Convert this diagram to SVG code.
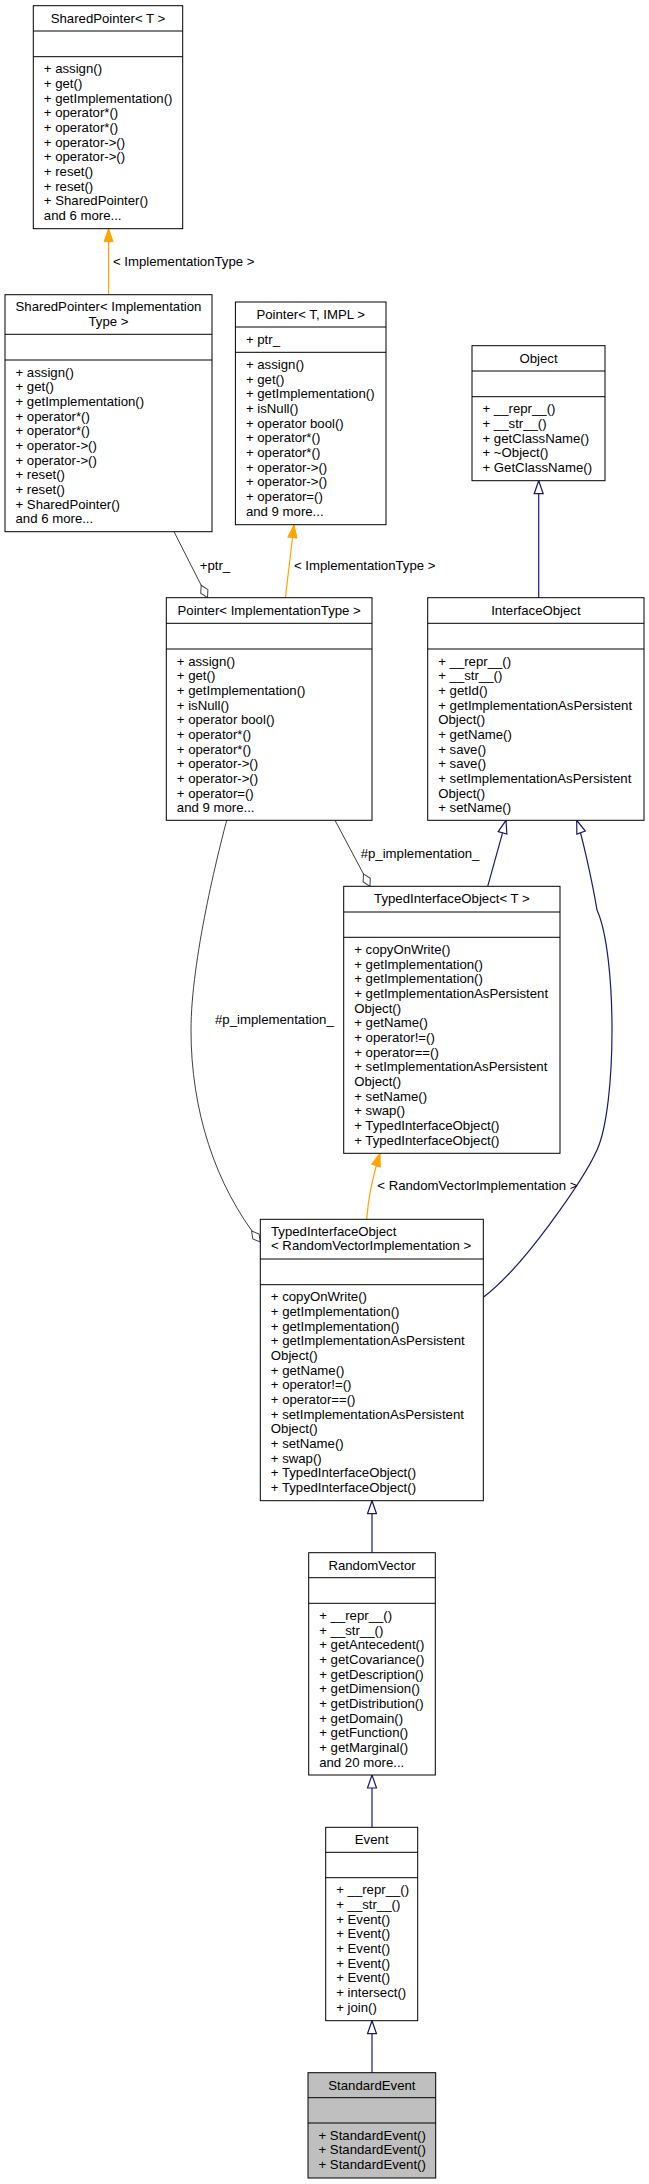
<svg xmlns="http://www.w3.org/2000/svg" width="649" height="2184" viewBox="0 0 649 2184">
<style>
.bg{fill:#fff}
.box{fill:#fff;stroke:#000;stroke-width:1}
.root{fill:#bfbfbf;stroke:#000;stroke-width:1}
.sep{stroke:#000;stroke-width:1}
text{font-family:"Liberation Sans",Arial,Helvetica,sans-serif;font-size:13.2px;fill:#000}
.c{text-anchor:middle}
.use{fill:none;stroke:#404040;stroke-width:1}
.tpl{fill:none;stroke:#ffa500;stroke-width:1.2}
.inh{fill:none;stroke:#191970;stroke-width:1.2}
</style>
<defs>
<marker id="mInh" markerUnits="userSpaceOnUse" markerWidth="16" markerHeight="12" refX="14" refY="5.5" orient="auto" overflow="visible">
<path d="M1,1 L14,5.5 L1,10 z" fill="#fff" stroke="#191970" stroke-width="1.2"/>
</marker>
<marker id="mTpl" markerUnits="userSpaceOnUse" markerWidth="16" markerHeight="12" refX="14" refY="5.5" orient="auto" overflow="visible">
<path d="M1,1 L14,5.5 L1,10 z" fill="#ffa500" stroke="#ffa500" stroke-width="1"/>
</marker>
<marker id="mDia" markerUnits="userSpaceOnUse" markerWidth="17" markerHeight="10" refX="15" refY="5" orient="auto" overflow="visible">
<path d="M1,5 L8,1 L15,5 L8,9 z" fill="#fff" stroke="#404040" stroke-width="1"/>
</marker>
</defs>
<rect class="bg" x="0" y="0" width="649" height="2184"/>

<g id="edges">
<path class="tpl" d="M108.6,294.7 L108.6,228.7" marker-end="url(#mTpl)"/>
<text x="113" y="265.5">&lt; ImplementationType &gt;</text>
<path class="tpl" d="M285.4,597.7 L294,524.7" marker-end="url(#mTpl)"/>
<text x="294" y="569.7">&lt; ImplementationType &gt;</text>
<path class="use" d="M174,531.7 L207.5,597.7" marker-end="url(#mDia)"/>
<text x="199.7" y="569.5">+ptr_</text>
<path class="inh" d="M538.7,597.7 L538.7,480.7" marker-end="url(#mInh)"/>
<path class="use" d="M335,820.3 L370,886.3" marker-end="url(#mDia)"/>
<text x="360.7" y="858">#p_implementation_</text>
<path class="inh" d="M487.7,886.3 L506,820.3" marker-end="url(#mInh)"/>
<path class="inh" d="M483.3,1297.3 C523,1268 584,1179 597,1150 C617,1106 617,954 597,910 C592,880 581.7,834.3 576.7,820.3" marker-end="url(#mInh)"/>
<path class="use" d="M226.7,820.3 C218.7,850.3 191,960 191,1030 C191,1110 215,1185 260.3,1242" marker-end="url(#mDia)"/>
<text x="215" y="1023.7">#p_implementation_</text>
<path class="tpl" d="M366.7,1219.3 C368.5,1195 373,1175 380,1153.3" marker-end="url(#mTpl)"/>
<text x="377.3" y="1190.4">&lt; RandomVectorImplementation &gt;</text>
<path class="inh" d="M372,1552.7 L372,1500.7" marker-end="url(#mInh)"/>
<path class="inh" d="M372,1827.3 L372,1775" marker-end="url(#mInh)"/>
<path class="inh" d="M372,2072.7 L372,2020.7" marker-end="url(#mInh)"/>
</g>

<g id="SharedPointerT">
<rect class="box" x="33.3" y="5.7" width="149.4" height="223"/>
<line class="sep" x1="33.3" y1="31" x2="182.7" y2="31"/>
<line class="sep" x1="33.3" y1="56.7" x2="182.7" y2="56.7"/>
<text class="c" x="108" y="22.7">SharedPointer&lt; T &gt;</text>
<text x="43.8" y="73.4">+ assign()</text>
<text x="43.8" y="88.1">+ get()</text>
<text x="43.8" y="102.7">+ getImplementation()</text>
<text x="43.8" y="117.4">+ operator*()</text>
<text x="43.8" y="132.1">+ operator*()</text>
<text x="43.8" y="146.7">+ operator-&gt;()</text>
<text x="43.8" y="161.4">+ operator-&gt;()</text>
<text x="43.8" y="176.1">+ reset()</text>
<text x="43.8" y="190.8">+ reset()</text>
<text x="43.8" y="205.4">+ SharedPointer()</text>
<text x="43.8" y="220.1">and 6 more...</text>
</g>

<g id="SharedPointerImplementationType">
<rect class="box" x="5" y="294.7" width="207" height="237"/>
<line class="sep" x1="5" y1="334.3" x2="212" y2="334.3"/>
<line class="sep" x1="5" y1="360" x2="212" y2="360"/>
<text class="c" x="108.5" y="311">SharedPointer&lt; Implementation</text>
<text class="c" x="108.5" y="325.7">Type &gt;</text>
<text x="15.5" y="376.7">+ assign()</text>
<text x="15.5" y="391.4">+ get()</text>
<text x="15.5" y="406">+ getImplementation()</text>
<text x="15.5" y="420.7">+ operator*()</text>
<text x="15.5" y="435.4">+ operator*()</text>
<text x="15.5" y="450">+ operator-&gt;()</text>
<text x="15.5" y="464.7">+ operator-&gt;()</text>
<text x="15.5" y="479.4">+ reset()</text>
<text x="15.5" y="494.1">+ reset()</text>
<text x="15.5" y="508.7">+ SharedPointer()</text>
<text x="15.5" y="523.4">and 6 more...</text>
</g>

<g id="PointerTIMPL">
<rect class="box" x="235.4" y="302" width="150.6" height="222.7"/>
<line class="sep" x1="235.4" y1="327" x2="386" y2="327"/>
<line class="sep" x1="235.4" y1="352.3" x2="386" y2="352.3"/>
<text class="c" x="310.7" y="319">Pointer&lt; T, IMPL &gt;</text>
<text x="245.9" y="343.5">+ ptr_</text>
<text x="245.9" y="369">+ assign()</text>
<text x="245.9" y="383.7">+ get()</text>
<text x="245.9" y="398.3">+ getImplementation()</text>
<text x="245.9" y="413">+ isNull()</text>
<text x="245.9" y="427.7">+ operator bool()</text>
<text x="245.9" y="442.3">+ operator*()</text>
<text x="245.9" y="457">+ operator*()</text>
<text x="245.9" y="471.7">+ operator-&gt;()</text>
<text x="245.9" y="486.4">+ operator-&gt;()</text>
<text x="245.9" y="501">+ operator=()</text>
<text x="245.9" y="515.7">and 9 more...</text>
</g>

<g id="Object">
<rect class="box" x="472" y="345.7" width="133" height="135"/>
<line class="sep" x1="472" y1="371" x2="605" y2="371"/>
<line class="sep" x1="472" y1="396.7" x2="605" y2="396.7"/>
<text class="c" x="538.5" y="362.7">Object</text>
<text x="482.5" y="413.4">+ __repr__()</text>
<text x="482.5" y="428.1">+ __str__()</text>
<text x="482.5" y="442.7">+ getClassName()</text>
<text x="482.5" y="457.4">+ ~Object()</text>
<text x="482.5" y="472.1">+ GetClassName()</text>
</g>

<g id="PointerImplementationType">
<rect class="box" x="166.3" y="597.7" width="205.7" height="222.6"/>
<line class="sep" x1="166.3" y1="623.3" x2="372" y2="623.3"/>
<line class="sep" x1="166.3" y1="649" x2="372" y2="649"/>
<text class="c" x="269.2" y="614.7">Pointer&lt; ImplementationType &gt;</text>
<text x="176.8" y="665.7">+ assign()</text>
<text x="176.8" y="680.4">+ get()</text>
<text x="176.8" y="695">+ getImplementation()</text>
<text x="176.8" y="709.7">+ isNull()</text>
<text x="176.8" y="724.4">+ operator bool()</text>
<text x="176.8" y="739">+ operator*()</text>
<text x="176.8" y="753.7">+ operator*()</text>
<text x="176.8" y="768.4">+ operator-&gt;()</text>
<text x="176.8" y="783.1">+ operator-&gt;()</text>
<text x="176.8" y="797.7">+ operator=()</text>
<text x="176.8" y="812.4">and 9 more...</text>
</g>

<g id="InterfaceObject">
<rect class="box" x="427.7" y="597.7" width="216.3" height="222.6"/>
<line class="sep" x1="427.7" y1="623.3" x2="644" y2="623.3"/>
<line class="sep" x1="427.7" y1="649" x2="644" y2="649"/>
<text class="c" x="535.9" y="614.7">InterfaceObject</text>
<text x="438.2" y="665.7">+ __repr__()</text>
<text x="438.2" y="680.4">+ __str__()</text>
<text x="438.2" y="695">+ getId()</text>
<text x="438.2" y="709.7">+ getImplementationAsPersistent</text>
<text x="438.2" y="724.4">Object()</text>
<text x="438.2" y="739">+ getName()</text>
<text x="438.2" y="753.7">+ save()</text>
<text x="438.2" y="768.4">+ save()</text>
<text x="438.2" y="783.1">+ setImplementationAsPersistent</text>
<text x="438.2" y="797.7">Object()</text>
<text x="438.2" y="812.4">+ setName()</text>
</g>

<g id="TypedInterfaceObjectT">
<rect class="box" x="343.7" y="886.3" width="216.3" height="267"/>
<line class="sep" x1="343.7" y1="912" x2="560" y2="912"/>
<line class="sep" x1="343.7" y1="937.3" x2="560" y2="937.3"/>
<text class="c" x="451.9" y="903.3">TypedInterfaceObject&lt; T &gt;</text>
<text x="354.2" y="954">+ copyOnWrite()</text>
<text x="354.2" y="968.7">+ getImplementation()</text>
<text x="354.2" y="983.3">+ getImplementation()</text>
<text x="354.2" y="998">+ getImplementationAsPersistent</text>
<text x="354.2" y="1012.7">Object()</text>
<text x="354.2" y="1027.3">+ getName()</text>
<text x="354.2" y="1042">+ operator!=()</text>
<text x="354.2" y="1056.7">+ operator==()</text>
<text x="354.2" y="1071.4">+ setImplementationAsPersistent</text>
<text x="354.2" y="1086">Object()</text>
<text x="354.2" y="1100.7">+ setName()</text>
<text x="354.2" y="1115.4">+ swap()</text>
<text x="354.2" y="1130">+ TypedInterfaceObject()</text>
<text x="354.2" y="1144.7">+ TypedInterfaceObject()</text>
</g>

<g id="TypedInterfaceObjectRVI">
<rect class="box" x="260.3" y="1219.3" width="223" height="281.4"/>
<line class="sep" x1="260.3" y1="1259" x2="483.3" y2="1259"/>
<line class="sep" x1="260.3" y1="1284.7" x2="483.3" y2="1284.7"/>
<text x="271" y="1235.6">TypedInterfaceObject</text>
<text x="271" y="1250.3">&lt; RandomVectorImplementation &gt;</text>
<text x="270.8" y="1301.4">+ copyOnWrite()</text>
<text x="270.8" y="1316.1">+ getImplementation()</text>
<text x="270.8" y="1330.7">+ getImplementation()</text>
<text x="270.8" y="1345.4">+ getImplementationAsPersistent</text>
<text x="270.8" y="1360.1">Object()</text>
<text x="270.8" y="1374.7">+ getName()</text>
<text x="270.8" y="1389.4">+ operator!=()</text>
<text x="270.8" y="1404.1">+ operator==()</text>
<text x="270.8" y="1418.8">+ setImplementationAsPersistent</text>
<text x="270.8" y="1433.4">Object()</text>
<text x="270.8" y="1448.1">+ setName()</text>
<text x="270.8" y="1462.8">+ swap()</text>
<text x="270.8" y="1477.4">+ TypedInterfaceObject()</text>
<text x="270.8" y="1492.1">+ TypedInterfaceObject()</text>
</g>

<g id="RandomVector">
<rect class="box" x="308.7" y="1552.7" width="126.6" height="222.3"/>
<line class="sep" x1="308.7" y1="1577.7" x2="435.3" y2="1577.7"/>
<line class="sep" x1="308.7" y1="1603.3" x2="435.3" y2="1603.3"/>
<text class="c" x="372" y="1569.5">RandomVector</text>
<text x="319.2" y="1620">+ __repr__()</text>
<text x="319.2" y="1634.7">+ __str__()</text>
<text x="319.2" y="1649.3">+ getAntecedent()</text>
<text x="319.2" y="1664">+ getCovariance()</text>
<text x="319.2" y="1678.7">+ getDescription()</text>
<text x="319.2" y="1693.3">+ getDimension()</text>
<text x="319.2" y="1708">+ getDistribution()</text>
<text x="319.2" y="1722.7">+ getDomain()</text>
<text x="319.2" y="1737.4">+ getFunction()</text>
<text x="319.2" y="1752">+ getMarginal()</text>
<text x="319.2" y="1766.7">and 20 more...</text>
</g>

<g id="Event">
<rect class="box" x="325.7" y="1827.3" width="92" height="193.4"/>
<line class="sep" x1="325.7" y1="1852.3" x2="417.7" y2="1852.3"/>
<line class="sep" x1="325.7" y1="1877.7" x2="417.7" y2="1877.7"/>
<text class="c" x="371.7" y="1844">Event</text>
<text x="336.2" y="1894.4">+ __repr__()</text>
<text x="336.2" y="1909.1">+ __str__()</text>
<text x="336.2" y="1923.7">+ Event()</text>
<text x="336.2" y="1938.4">+ Event()</text>
<text x="336.2" y="1953.1">+ Event()</text>
<text x="336.2" y="1967.7">+ Event()</text>
<text x="336.2" y="1982.4">+ Event()</text>
<text x="336.2" y="1997.1">+ intersect()</text>
<text x="336.2" y="2011.8">+ join()</text>
</g>

<g id="StandardEvent">
<rect class="root" x="308" y="2072.7" width="127.7" height="105.3"/>
<line class="sep" x1="308" y1="2097.7" x2="435.7" y2="2097.7"/>
<line class="sep" x1="308" y1="2123" x2="435.7" y2="2123"/>
<text class="c" x="371.9" y="2089.5">StandardEvent</text>
<text x="318.5" y="2139.7">+ StandardEvent()</text>
<text x="318.5" y="2154.4">+ StandardEvent()</text>
<text x="318.5" y="2169">+ StandardEvent()</text>
</g>
</svg>
